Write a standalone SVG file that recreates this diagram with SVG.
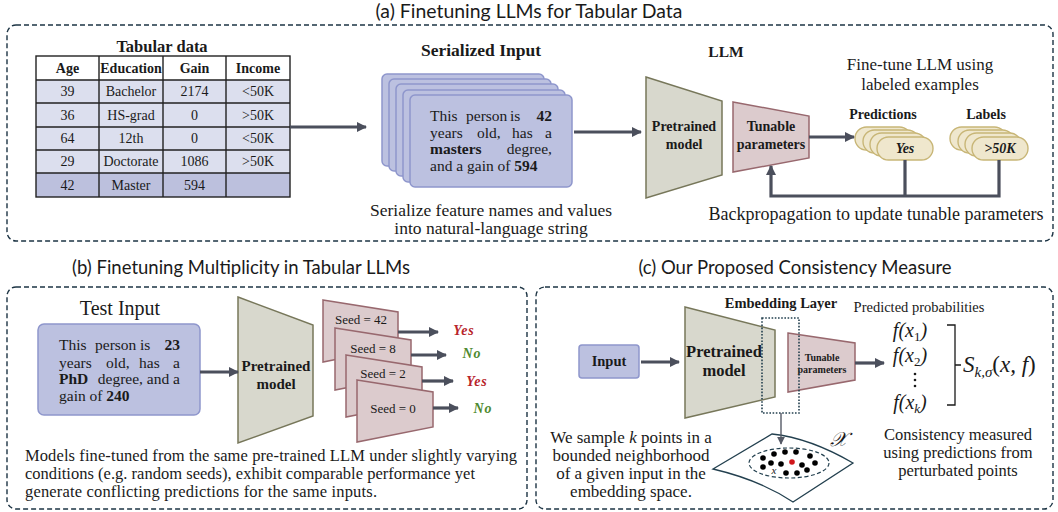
<svg xmlns="http://www.w3.org/2000/svg" width="1058" height="512" viewBox="0 0 1058 512">
  <style>
    .panel { fill: none; stroke: #1d3444; stroke-width: 1.4; stroke-dasharray: 5 3; }
    .title { font-family: Lato, "Open Sans", sans-serif; font-size: 18.5px; fill: #1a1a1a; text-anchor: middle; }
    .serif { font-family: "Liberation Serif", serif; fill: #1a1a1a; }
    .b { font-weight: bold; }
    .mid { text-anchor: middle; }
    .end { text-anchor: end; }
    .cell { font-family: "Liberation Serif", serif; font-size: 14px; fill: #1a1a1a; text-anchor: middle; }
    .card { fill: #bcc1e0; stroke: #8e96cc; stroke-width: 1.5; }
    .pre { fill: #d8d8cd; stroke: #77775a; stroke-width: 1.5; }
    .tun { fill: #dccbcd; stroke: #98686e; stroke-width: 1.5; }
    .pill { fill: #efe7cd; stroke: #c8b677; stroke-width: 1.4; }
    .arrow { fill: none; stroke: #4b4f5c; stroke-width: 3.2; }
    .math { font-family: "Liberation Serif", serif; font-style: italic; fill: #1a1a1a; }
  </style>
  <defs>
    <marker id="ah" viewBox="0 0 10 10" refX="9" refY="5" markerWidth="11" markerHeight="10" markerUnits="userSpaceOnUse" orient="auto">
      <path d="M0,0 L10,5 L0,10 z" fill="#4b4f5c"/>
    </marker>
    <marker id="ahs" viewBox="0 0 10 10" refX="9" refY="5" markerWidth="8" markerHeight="8" markerUnits="userSpaceOnUse" orient="auto">
      <path d="M0,0 L10,5 L0,10 z" fill="#555a66"/>
    </marker>
  </defs>
  <rect width="1058" height="512" fill="#ffffff"/>

  <!-- section titles and frames -->
  <text class="title" x="529" y="17.5" textLength="307" lengthAdjust="spacingAndGlyphs">(a) Finetuning LLMs for Tabular Data</text>
  <text class="title" x="241" y="274">(b) Finetuning Multiplicity in Tabular LLMs</text>
  <text class="title" x="795" y="274">(c) Our Proposed Consistency Measure</text>
  <rect class="panel" x="7" y="25" width="1046" height="216" rx="9"/>
  <rect class="panel" x="7" y="287" width="520" height="222" rx="9"/>
  <rect class="panel" x="536" y="287" width="517" height="222" rx="9"/>

  <!-- (a) tabular data -->
  <g id="table">
    <text class="serif b mid" x="162" y="52" font-size="16.5">Tabular data</text>
    <rect x="36" y="56" width="254" height="24" fill="#ffffff"/>
    <rect x="36" y="80" width="254" height="93" fill="#dcdfee"/>
    <rect x="36" y="173" width="254" height="24" fill="#bcc0dd"/>
    <g stroke="#222" stroke-width="1.4" fill="none">
      <rect x="36" y="56" width="254" height="141"/>
      <path d="M36,80 H290 M36,103 H290 M36,127 H290 M36,150 H290 M36,173 H290"/>
      <path d="M99,56 V197 M163,56 V197 M226,56 V197"/>
    </g>
    <g class="cell b">
      <text x="67.5" y="73">Age</text><text x="131" y="73">Education</text><text x="194.5" y="73">Gain</text><text x="258" y="73">Income</text>
    </g>
    <g class="cell">
      <text x="67.5" y="96">39</text><text x="131" y="96">Bachelor</text><text x="194.5" y="96">2174</text><text x="258" y="96">&lt;50K</text>
      <text x="67.5" y="120">36</text><text x="131" y="120">HS-grad</text><text x="194.5" y="120">0</text><text x="258" y="120">&gt;50K</text>
      <text x="67.5" y="143">64</text><text x="131" y="143">12th</text><text x="194.5" y="143">0</text><text x="258" y="143">&lt;50K</text>
      <text x="67.5" y="166">29</text><text x="131" y="166">Doctorate</text><text x="194.5" y="166">1086</text><text x="258" y="166">&gt;50K</text>
      <text x="67.5" y="190">42</text><text x="131" y="190">Master</text><text x="194.5" y="190">594</text>
    </g>
  </g>

  <!-- (a) serialized input -->
  <g id="serialized">
    <text class="serif b mid" x="481" y="56" font-size="17.5">Serialized Input</text>
    <rect class="card" x="382" y="74" width="162" height="92" rx="5"/>
    <rect class="card" x="389" y="79" width="162" height="92" rx="5"/>
    <rect class="card" x="396" y="84" width="162" height="92" rx="5"/>
    <rect class="card" x="403" y="90" width="162" height="92" rx="5"/>
    <rect class="card" x="410" y="95" width="162" height="92" rx="5"/>
    <g class="serif" font-size="15.5">
      <text x="430" y="121">This</text><text x="466" y="121">person</text><text x="510" y="121">is</text><text class="b end" x="552" y="121">42</text>
      <text x="430" y="138">years</text><text x="477" y="138">old,</text><text x="512" y="138">has</text><text class="end" x="552" y="138">a</text>
      <text class="b" x="430" y="154">masters</text><text class="end" x="552" y="154">degree,</text>
      <text x="430" y="171">and a gain of <tspan class="b">594</tspan></text>
    </g>
    <text class="serif mid" x="491" y="216" font-size="17.5">Serialize feature names and values</text>
    <text class="serif mid" x="491" y="234" font-size="17.5">into natural-language string</text>
  </g>

  <!-- (a) LLM -->
  <g id="llm-a">
    <text class="serif b mid" x="726" y="57" font-size="15.5">LLM</text>
    <path class="pre" d="M646,77 L722,101 L722,175 L646,198 z"/>
    <text class="serif b mid" x="684" y="131" font-size="14">Pretrained</text>
    <text class="serif b mid" x="684" y="149" font-size="14">model</text>
    <path class="tun" d="M733,102 L809,116 L809,158 L733,172 z"/>
    <text class="serif b mid" x="771" y="131" font-size="14">Tunable</text>
    <text class="serif b mid" x="771" y="149" font-size="14">parameters</text>
  </g>

  <g id="predictions">
    <text class="serif mid" x="920" y="70" font-size="17">Fine-tune LLM using</text>
    <text class="serif mid" x="920" y="90" font-size="17">labeled examples</text>
    <text class="serif b mid" x="883" y="119" font-size="14">Predictions</text>
    <rect class="pill" x="855" y="127" width="56" height="23" rx="11.5"/>
    <rect class="pill" x="863" y="130" width="56" height="23" rx="11.5"/>
    <rect class="pill" x="870" y="133" width="56" height="23" rx="11.5"/>
    <rect class="pill" x="877" y="137" width="56" height="23" rx="11.5"/>
    <text class="serif b mid" x="905" y="153" font-size="14" font-style="italic">Yes</text>
  </g>
  <g id="labels">
    <text class="serif b mid" x="986" y="119" font-size="14">Labels</text>
    <rect class="pill" x="950" y="127" width="56" height="23" rx="11.5"/>
    <rect class="pill" x="958" y="130" width="56" height="23" rx="11.5"/>
    <rect class="pill" x="965" y="133" width="56" height="23" rx="11.5"/>
    <rect class="pill" x="972" y="137" width="56" height="23" rx="11.5"/>
    <text class="serif b mid" x="1000" y="153" font-size="14" font-style="italic">&gt;50K</text>
  </g>
  <text class="serif mid" x="876" y="220" font-size="18">Backpropagation to update tunable parameters</text>

  <!-- (b) multiplicity -->
  <g id="test-input">
    <text class="serif mid" x="120" y="315" font-size="20">Test Input</text>
    <rect class="card" x="38" y="324" width="162" height="91" rx="6"/>
    <g class="serif" font-size="15.5">
      <text x="59" y="350">This</text><text x="95" y="350">person</text><text x="140" y="350">is</text><text class="b end" x="180" y="350">23</text>
      <text x="59" y="368">years</text><text x="106" y="368">old,</text><text x="139" y="368">has</text><text class="end" x="180" y="368">a</text>
      <text class="b" x="59" y="384">PhD</text><text class="end" x="180" y="384">degree, and a</text>
      <text x="59" y="401">gain of <tspan class="b">240</tspan></text>
    </g>
  </g>
  <g id="pretrained-b">
    <path class="pre" d="M238,297 L313,325 L313,416 L238,443 z"/>
    <text class="serif b mid" x="276" y="371" font-size="15">Pretrained</text>
    <text class="serif b mid" x="276" y="389" font-size="15">model</text>
  </g>
  <g id="seeds" class="serif" font-size="13">
    <path class="tun" d="M323,300 L398,312 L398,347 L323,362 z"/>
    <text class="mid" x="361" y="324">Seed = 42</text>
    <path class="tun" d="M335,328 L411,340 L411,375 L335,390 z"/>
    <text class="mid" x="373" y="353">Seed = 8</text>
    <path class="tun" d="M346,355 L422,367 L422,402 L346,417 z"/>
    <text class="mid" x="383" y="378">Seed = 2</text>
    <path class="tun" d="M357,380 L433,392 L433,427 L357,442 z"/>
    <text class="mid" x="393" y="413">Seed = 0</text>
  </g>
  <g id="outcomes" class="serif b" font-size="14" font-style="italic" letter-spacing="1">
    <text class="mid" x="464" y="335" fill="#b8242a">Yes</text>
    <text class="mid" x="472" y="358" fill="#4e8a2e">No</text>
    <text class="mid" x="477" y="386" fill="#b8242a">Yes</text>
    <text class="mid" x="483" y="413" fill="#4e8a2e">No</text>
  </g>
  <g class="serif" font-size="16.5">
    <text x="25" y="461" textLength="492" lengthAdjust="spacing">Models fine-tuned from the same pre-trained LLM under slightly varying</text>
    <text x="25" y="479" textLength="450" lengthAdjust="spacing">conditions (e.g. random seeds), exhibit comparable performance yet</text>
    <text x="25" y="497" textLength="352" lengthAdjust="spacing">generate conflicting predictions for the same inputs.</text>
  </g>

  <!-- (c) consistency measure -->
  <g id="input-c">
    <rect class="card" x="579" y="345" width="60" height="33" rx="3"/>
    <text class="serif b mid" x="609" y="366" font-size="14.5">Input</text>
  </g>
  <g id="pretrained-c">
    <path class="pre" d="M685,307 L775,330 L775,397 L685,418 z"/>
    <text class="serif b mid" x="724" y="357" font-size="16.5">Pretrained</text>
    <text class="serif b mid" x="724" y="376" font-size="16.5">model</text>
  </g>
  <g id="tunable-c">
    <path class="tun" d="M788,333 L855,343 L855,380 L788,392 z"/>
    <text class="serif b mid" x="822" y="361" font-size="10">Tunable</text>
    <text class="serif b mid" x="822" y="373" font-size="10">parameters</text>
  </g>
  <g id="embedding">
    <text class="serif b mid" x="781" y="308" font-size="14.5">Embedding Layer</text>
    <rect x="762" y="318" width="37" height="95" fill="none" stroke="#23404f" stroke-width="1.6" stroke-dasharray="1.6 1.6"/>
  </g>
  <g id="probabilities">
    <text class="serif mid" x="919" y="312" font-size="14.5">Predicted probabilities</text>
    <text class="math" x="910" y="337" font-size="20" text-anchor="middle">f(x<tspan font-size="13" dy="4" font-style="normal">1</tspan><tspan dy="-4">)</tspan></text>
    <text class="math" x="910" y="362" font-size="20" text-anchor="middle">f(x<tspan font-size="13" dy="4" font-style="normal">2</tspan><tspan dy="-4">)</tspan></text>
    <g fill="#1a1a1a"><circle cx="915" cy="374" r="1.3"/><circle cx="915" cy="380" r="1.3"/><circle cx="915" cy="386" r="1.3"/></g>
    <text class="math" x="910" y="409" font-size="20" text-anchor="middle">f(x<tspan font-size="13" dy="4">k</tspan><tspan dy="-4">)</tspan></text>
    <path d="M947,325 H955 V405 H947 M955,365 H961" fill="none" stroke="#1a1a1a" stroke-width="1.3"/>
    <text class="math" x="963" y="372" font-size="23">S<tspan font-size="15" dy="5">k,σ</tspan><tspan dy="-5" font-style="normal">(</tspan>x, f<tspan font-style="normal">)</tspan></text>
  </g>
  <g id="neighborhood">
    <path d="M713,469 L772,434 Q810,438 853,463 L793,502 Q760,480 713,469 z" fill="#ffffff" stroke="#23404f" stroke-width="1.3"/>
    <ellipse cx="789" cy="463" rx="40" ry="15" fill="none" stroke="#23404f" stroke-width="1.2" stroke-dasharray="4 2.5"/>
    <g fill="#000">
      <circle cx="763" cy="458" r="2.8"/><circle cx="774" cy="454" r="2.8"/><circle cx="785" cy="452" r="2.8"/>
      <circle cx="796" cy="452" r="2.8"/><circle cx="810" cy="456" r="2.8"/><circle cx="771" cy="463" r="2.8"/>
      <circle cx="781" cy="464" r="2.8"/><circle cx="802" cy="465" r="2.8"/><circle cx="815" cy="463" r="2.8"/>
      <circle cx="763" cy="467" r="2.8"/><circle cx="786" cy="473" r="2.8"/><circle cx="797" cy="473" r="2.8"/>
      <circle cx="807" cy="470" r="2.8"/>
    </g>
    <circle cx="792" cy="462" r="2.8" fill="#d0161b"/>
    <text class="math" x="774" y="474" font-size="11" text-anchor="middle">x</text>
    <text x="838" y="446" font-size="20" font-style="italic" font-family="'DejaVu Serif', 'Liberation Serif', serif" fill="#1a1a1a" text-anchor="middle">𝒳</text>
  </g>
  <g class="serif mid" font-size="17">
    <text x="631" y="443">We sample <tspan font-style="italic">k</tspan> points in a</text>
    <text x="631" y="461">bounded neighborhood</text>
    <text x="631" y="479">of a given input in the</text>
    <text x="631" y="497">embedding space.</text>
    <text x="958" y="440" font-size="16.5">Consistency measured</text>
    <text x="958" y="458" font-size="16.5">using predictions from</text>
    <text x="958" y="476" font-size="16.5">perturbated points</text>
  </g>

  <!-- connectors -->
  <g id="connectors">
    <path class="arrow" d="M290,127 H366" marker-end="url(#ah)"/>
    <path class="arrow" d="M574,132 H641" marker-end="url(#ah)"/>
    <path class="arrow" d="M809,137 H854" marker-end="url(#ah)"/>
    <path class="arrow" d="M905,160 V196 M999,160 V196 H771 V166" marker-end="url(#ah)"/>
    <path class="arrow" d="M200,372 H238" marker-end="url(#ah)"/>
    <path class="arrow" d="M398,332 H438" marker-end="url(#ah)"/>
    <path class="arrow" d="M411,355 H446" marker-end="url(#ah)"/>
    <path class="arrow" d="M422,381 H453" marker-end="url(#ah)"/>
    <path class="arrow" d="M433,408 H458" marker-end="url(#ah)"/>
    <path class="arrow" d="M641,362 H679" marker-end="url(#ah)"/>
    <path class="arrow" d="M855,363 H884" marker-end="url(#ah)"/>
    <path d="M781,413 V444" fill="none" stroke="#555a66" stroke-width="1.4" marker-end="url(#ahs)"/>
  </g>
</svg>
